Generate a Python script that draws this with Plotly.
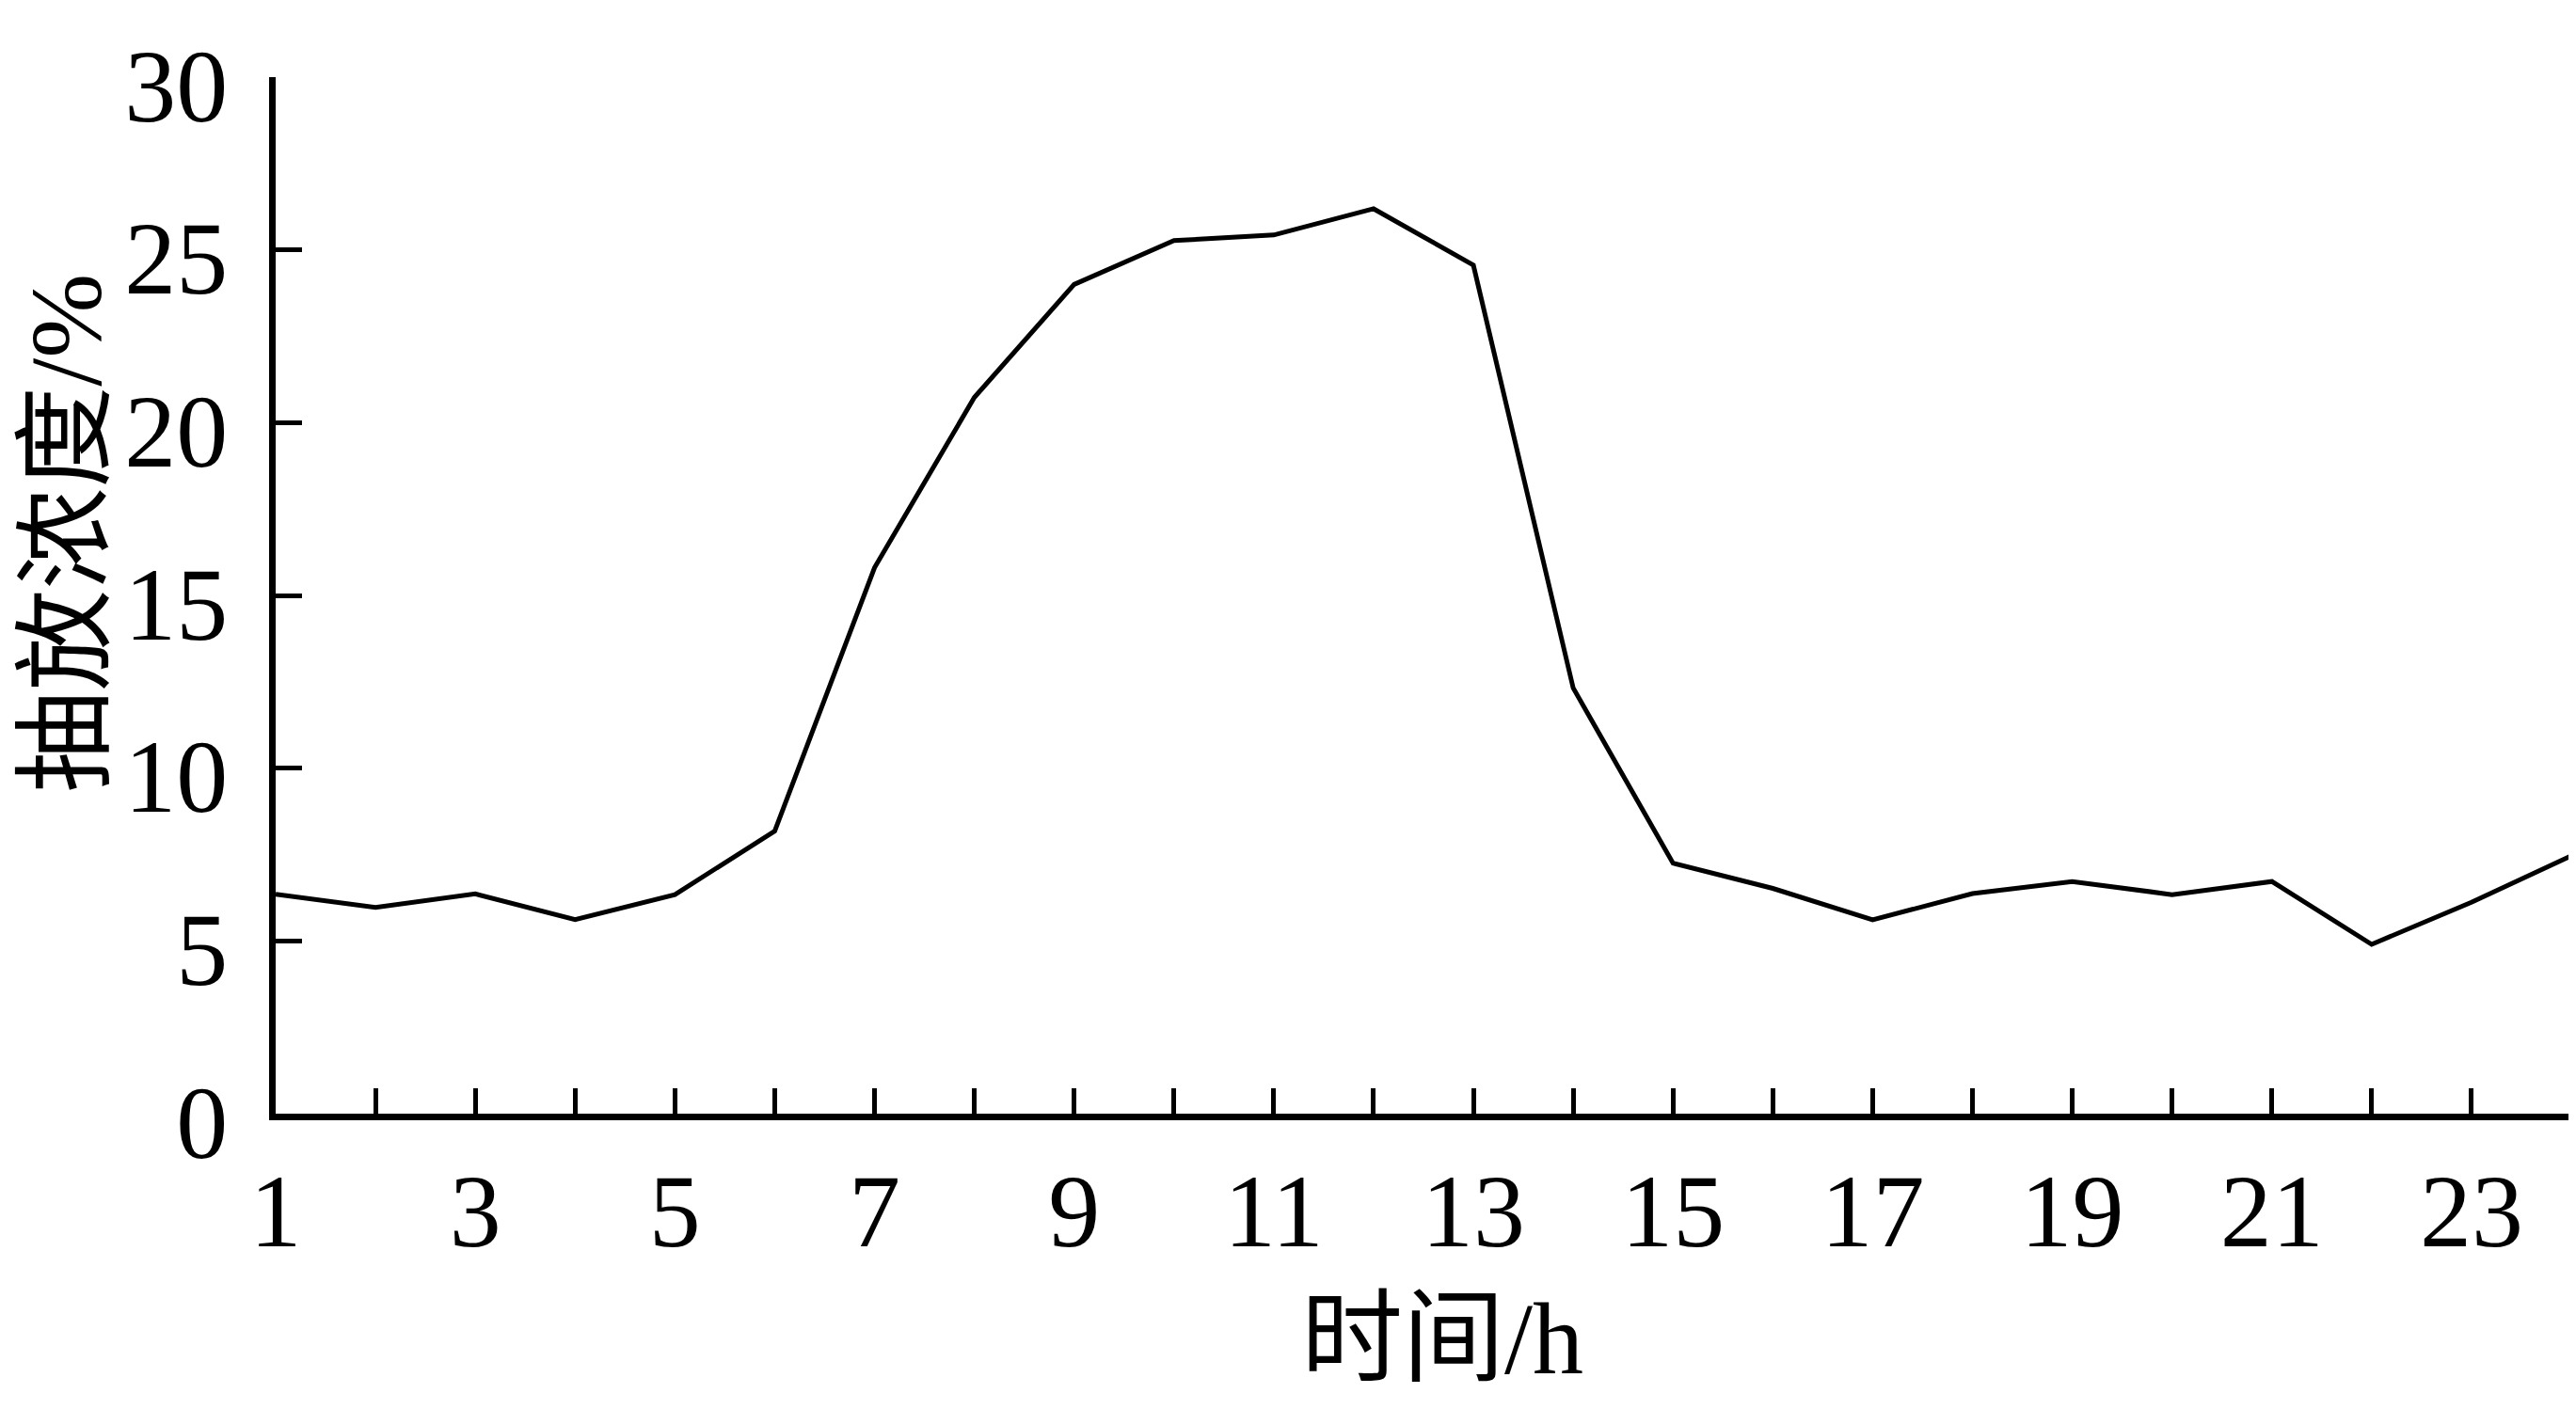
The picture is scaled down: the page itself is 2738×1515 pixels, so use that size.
import plotly.graph_objects as go

hours = list(range(1, 25))
concentration = [6.35, 5.97, 6.36, 5.62, 6.34, 8.18, 15.8, 20.73, 24.0, 25.27, 25.43, 26.19,
                 24.56, 12.32, 7.25, 6.52, 5.61, 6.37, 6.72, 6.34, 6.72, 4.9, 6.12, 7.46]
x_tickvals = list(range(1, 25))
x_ticktext = [str(h) if h % 2 == 1 else "" for h in x_tickvals]
y_tickvals = [0, 5, 10, 15, 20, 25, 30]
x_title = "时间/h"
y_title = "抽放浓度/%"

FONT = "Liberation Serif, Times New Roman, Noto Sans CJK SC, serif"

fig = go.Figure()
fig.add_trace(go.Scatter(x=hours, y=concentration, mode="lines",
                         line=dict(color="black", width=5), showlegend=False))

fig.update_layout(
    width=2730, height=1507,
    margin=dict(l=285, r=5, t=74, b=331),
    paper_bgcolor="white", plot_bgcolor="white",
    font=dict(family=FONT, size=110, color="black"),
)
fig.update_xaxes(
    range=[1, 24], tickmode="array", tickvals=x_tickvals, ticktext=x_ticktext,
    ticks="inside", ticklen=27, tickwidth=5, tickcolor="black",
    showline=True, linecolor="black", linewidth=6.5, showgrid=False, zeroline=False,
    tickfont=dict(family=FONT, size=110, color="black"), ticklabelstandoff=2,
)
fig.update_yaxes(
    range=[0, 30], tickmode="array", tickvals=y_tickvals,
    ticks="inside", ticklen=28, tickwidth=5, tickcolor="black",
    showline=True, linecolor="black", linewidth=6.5, showgrid=False, zeroline=False,
    tickfont=dict(family=FONT, size=110, color="black"), ticklabelstandoff=22,
    ticklabelshift=8,
)
fig.add_annotation(text=x_title, xref="paper", yref="paper", x=0.508, y=-0.217,
                   xanchor="center", yanchor="middle", showarrow=False,
                   font=dict(family=FONT, size=108, color="black"))
fig.add_annotation(text=y_title, xref="paper", yref="paper", x=-0.091, y=0.56,
                   xanchor="center", yanchor="middle", showarrow=False, textangle=-90,
                   font=dict(family=FONT, size=108, color="black"))

fig.write_html("out.html")
